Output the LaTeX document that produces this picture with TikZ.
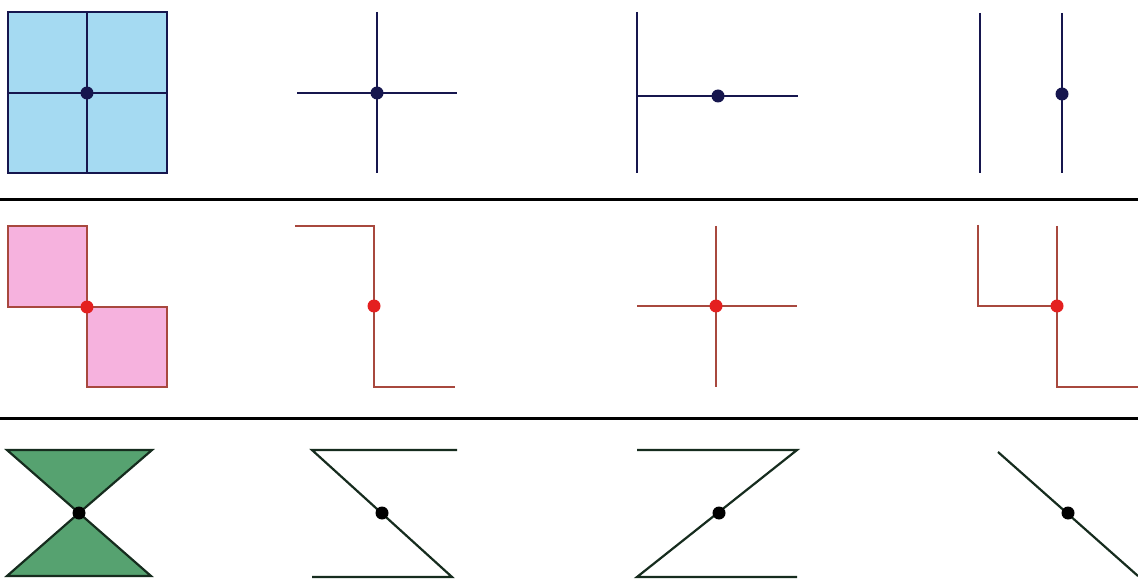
\documentclass[tikz,border=0pt]{standalone}
\definecolor{navy}{RGB}{22,22,78}
\definecolor{skyfill}{RGB}{165,218,242}
\definecolor{pinkfill}{RGB}{246,178,222}
\definecolor{redline}{RGB}{168,72,62}
\definecolor{reddot}{RGB}{228,32,32}
\definecolor{greenfill}{RGB}{86,162,112}
\definecolor{greenline}{RGB}{22,44,30}
\begin{document}
\begin{tikzpicture}[x=1pt,y=-1pt,
  blueline/.style={draw=navy,line width=2.2pt},
  redl/.style={draw=redline,line width=2pt},
  greenl/.style={draw=greenline,line width=2.2pt},
  sep/.style={draw=black,line width=3pt},
  bdot/.style={fill=navy},
  rdot/.style={fill=reddot},
  gdot/.style={fill=black}]
\useasboundingbox[fill=white] (0,0) rectangle (1138,580);
% separators
\draw[sep] (0,200) -- (1138,200);
\draw[sep] (0,418) -- (1138,418);
% Row 1
\filldraw[blueline,fill=skyfill] (8,12) rectangle (167,173);
\draw[blueline] (87,12) -- (87,173) (8,93) -- (167,93);
\fill[bdot] (87,93) circle (6.5);
\draw[blueline] (377,12) -- (377,173) (297,93) -- (457,93);
\fill[bdot] (377,93) circle (6.5);
\draw[blueline] (637,12) -- (637,173) (637,96) -- (798,96);
\fill[bdot] (718,96) circle (6.5);
\draw[blueline] (980,13) -- (980,173) (1062,13) -- (1062,173);
\fill[bdot] (1062,94) circle (6.5);
% Row 2
\filldraw[redl,fill=pinkfill] (8,226) rectangle (87,307);
\filldraw[redl,fill=pinkfill] (87,307) rectangle (167,387);
\fill[rdot] (87,307) circle (6.5);
\draw[redl] (295,226) -- (374,226) -- (374,387) -- (455,387);
\fill[rdot] (374,306) circle (6.5);
\draw[redl] (716,226) -- (716,387) (637,306) -- (797,306);
\fill[rdot] (716,306) circle (6.5);
\draw[redl] (978,225) -- (978,306) -- (1057,306);
\draw[redl] (1057,226) -- (1057,387) -- (1138,387);
\fill[rdot] (1057,306) circle (6.5);
% Row 3
\filldraw[greenl,fill=greenfill,line join=miter] (7,450) -- (152,450) -- (79,513) -- cycle;
\filldraw[greenl,fill=greenfill,line join=miter] (7,576) -- (151,576) -- (79,513) -- cycle;
\fill[gdot] (79,513) circle (6.5);
\draw[greenl] (457,450) -- (312,450) -- (452,577) -- (312,577);
\fill[gdot] (382,513) circle (6.5);
\draw[greenl] (637,450) -- (797,450) -- (637,577) -- (797,577);
\fill[gdot] (719,513) circle (6.5);
\draw[greenl] (998,452) -- (1138,576);
\fill[gdot] (1068,513) circle (6.5);
\end{tikzpicture}
\end{document}
